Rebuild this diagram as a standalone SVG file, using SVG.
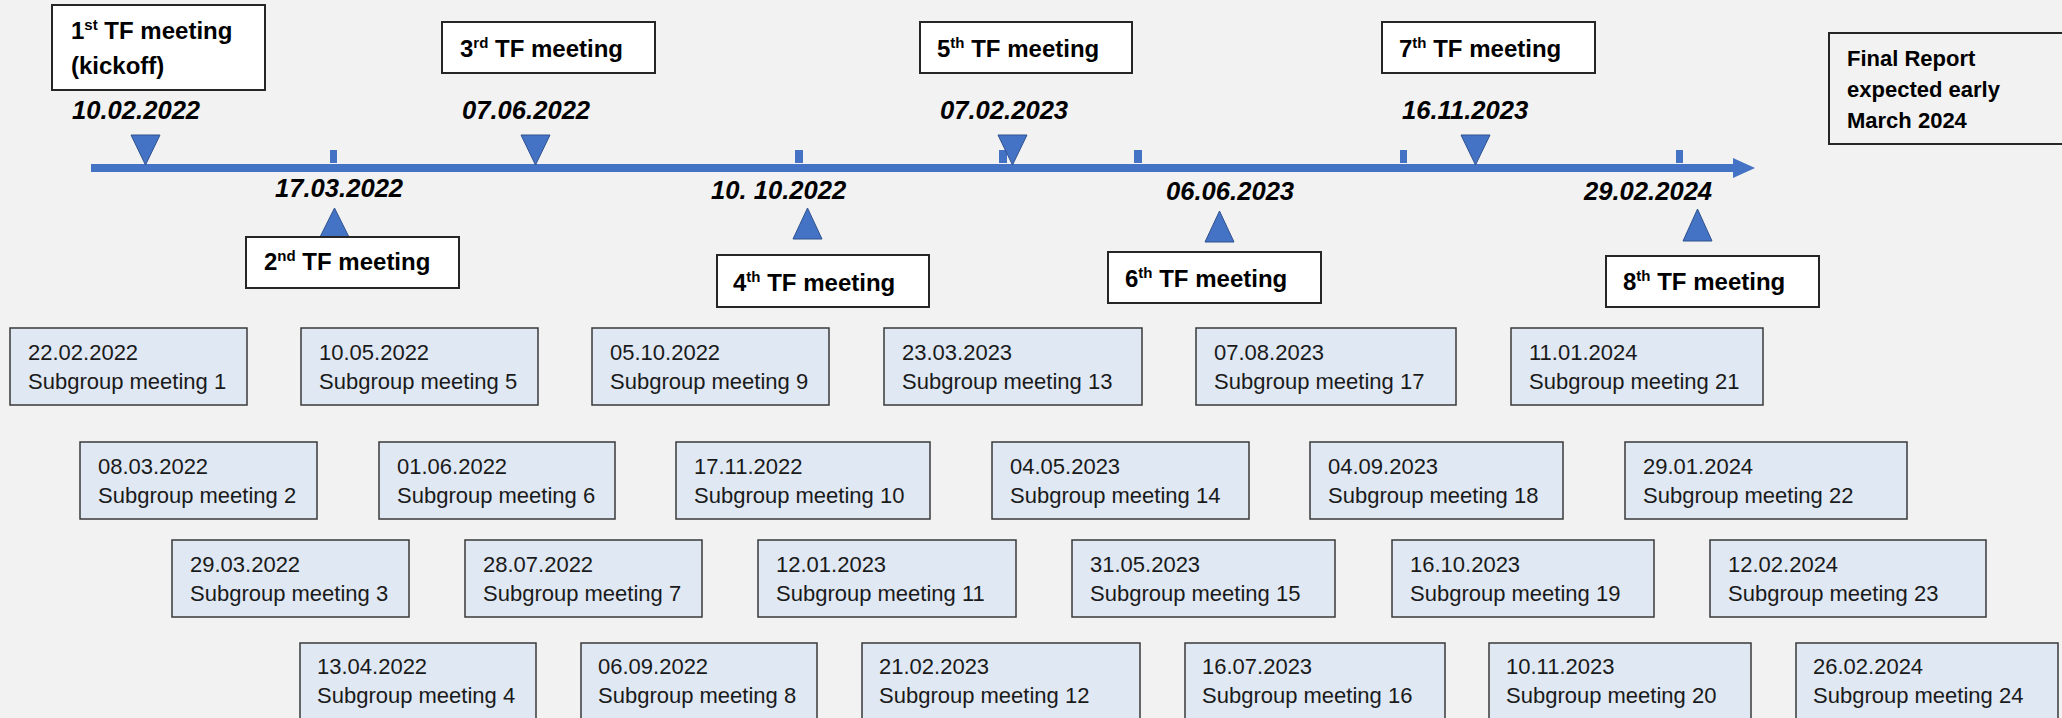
<svg xmlns="http://www.w3.org/2000/svg" width="2062" height="718" viewBox="0 0 2062 718">
<style>
  .bg { fill: #f2f2f2; }
  .tf rect { fill: #ffffff; stroke: #262626; stroke-width: 2; }
  .tf text { font-family: "Liberation Sans", Arial, sans-serif; font-weight: bold; font-size: 24px; fill: #000000; }
  .sup { font-size: 15px; }
  .sg rect { fill: #dfe8f3; stroke: #3a3a3a; stroke-width: 1.5; }
  .sg text { font-family: "Liberation Sans", Arial, sans-serif; font-size: 22px; fill: #1a1a1a; }
  .date { font-family: "Liberation Sans", Arial, sans-serif; font-weight: bold; font-style: italic; font-size: 25.6px; fill: #000000; }
  .final rect { fill: #f2f2f2; stroke: #262626; stroke-width: 2; }
  .final text { font-family: "Liberation Sans", Arial, sans-serif; font-weight: bold; font-size: 22px; fill: #000000; }
  .axis { stroke: #4472c4; stroke-width: 8; fill: none; }
  .tick { fill: #4472c4; }
  .tri { fill: #4472c4; stroke: #2f528f; stroke-width: 1; }
</style>
<defs>
  <marker id="arrow" markerUnits="userSpaceOnUse" markerWidth="24" markerHeight="22" refX="0" refY="11" orient="auto">
    <path d="M0,1 L22,11 L0,21 Z" fill="#4472c4"/>
  </marker>
</defs>
<rect class="bg" x="0" y="0" width="2062" height="718"/>

<g id="connectors">
  <line class="axis" x1="91" y1="168" x2="1733" y2="168" marker-end="url(#arrow)"/>
  <rect class="tick" x="330" y="150" width="7" height="13"/>
  <rect class="tick" x="795" y="150" width="8" height="13"/>
  <rect class="tick" x="999" y="150" width="8" height="13"/>
  <rect class="tick" x="1134" y="150" width="8" height="13"/>
  <rect class="tick" x="1400" y="150" width="7" height="13"/>
  <rect class="tick" x="1676" y="150" width="7" height="13"/>
  <polygon class="tri" points="131,135 160,135 145.5,165"/>
  <polygon class="tri" points="521,135 550,135 535.5,165"/>
  <polygon class="tri" points="998,135 1027,135 1012.5,165"/>
  <polygon class="tri" points="1461,135 1490,135 1475.5,165"/>
  <polygon class="tri" points="320,237 349,237 334.5,208"/>
  <polygon class="tri" points="793,239 822,239 807.5,208"/>
  <polygon class="tri" points="1205,242 1234,242 1219.5,211"/>
  <polygon class="tri" points="1683,241 1712,241 1697.5,209"/>
</g>

<g id="dates">
  <text class="date" x="72" y="119">10.02.2022</text>
  <text class="date" x="462" y="119">07.06.2022</text>
  <text class="date" x="940" y="119">07.02.2023</text>
  <text class="date" x="1402" y="119">16.11.2023</text>
  <text class="date" x="275" y="197">17.03.2022</text>
  <text class="date" x="711" y="199">10. 10.2022</text>
  <text class="date" x="1166" y="200">06.06.2023</text>
  <text class="date" x="1584" y="200">29.02.2024</text>
</g>

<g id="tf1" class="tf">
  <rect x="52" y="5" width="213" height="85"/>
  <text x="71" y="39">1<tspan class="sup" dy="-9">st</tspan><tspan dy="9"> TF meeting</tspan></text>
  <text x="71" y="74">(kickoff)</text>
</g>
<g id="tf2" class="tf">
  <rect x="246" y="237" width="213" height="51"/>
  <text x="264" y="270">2<tspan class="sup" dy="-9">nd</tspan><tspan dy="9"> TF meeting</tspan></text>
</g>
<g id="tf3" class="tf">
  <rect x="442" y="22" width="213" height="51"/>
  <text x="460" y="57">3<tspan class="sup" dy="-9">rd</tspan><tspan dy="9"> TF meeting</tspan></text>
</g>
<g id="tf4" class="tf">
  <rect x="717" y="255" width="212" height="52"/>
  <text x="733" y="291">4<tspan class="sup" dy="-9">th</tspan><tspan dy="9"> TF meeting</tspan></text>
</g>
<g id="tf5" class="tf">
  <rect x="920" y="22" width="212" height="51"/>
  <text x="937" y="57">5<tspan class="sup" dy="-9">th</tspan><tspan dy="9"> TF meeting</tspan></text>
</g>
<g id="tf6" class="tf">
  <rect x="1108" y="252" width="213" height="51"/>
  <text x="1125" y="287">6<tspan class="sup" dy="-9">th</tspan><tspan dy="9"> TF meeting</tspan></text>
</g>
<g id="tf7" class="tf">
  <rect x="1382" y="22" width="213" height="51"/>
  <text x="1399" y="57">7<tspan class="sup" dy="-9">th</tspan><tspan dy="9"> TF meeting</tspan></text>
</g>
<g id="tf8" class="tf">
  <rect x="1606" y="256" width="213" height="51"/>
  <text x="1623" y="290">8<tspan class="sup" dy="-9">th</tspan><tspan dy="9"> TF meeting</tspan></text>
</g>

<g id="final" class="final">
  <rect x="1829" y="33" width="250" height="111"/>
  <text x="1847" y="66">Final Report</text>
  <text x="1847" y="97">expected early</text>
  <text x="1847" y="128">March 2024</text>
</g>

<g id="sg1" class="sg"><rect x="10" y="328" width="237" height="77"/><text x="28" y="360">22.02.2022</text><text x="28" y="389">Subgroup meeting 1</text></g>
<g id="sg2" class="sg"><rect x="80" y="442" width="237" height="77"/><text x="98" y="474">08.03.2022</text><text x="98" y="503">Subgroup meeting 2</text></g>
<g id="sg3" class="sg"><rect x="172" y="540" width="237" height="77"/><text x="190" y="572">29.03.2022</text><text x="190" y="601">Subgroup meeting 3</text></g>
<g id="sg4" class="sg"><rect x="300" y="643" width="236" height="80"/><text x="317" y="674">13.04.2022</text><text x="317" y="703">Subgroup meeting 4</text></g>
<g id="sg5" class="sg"><rect x="301" y="328" width="237" height="77"/><text x="319" y="360">10.05.2022</text><text x="319" y="389">Subgroup meeting 5</text></g>
<g id="sg6" class="sg"><rect x="379" y="442" width="236" height="77"/><text x="397" y="474">01.06.2022</text><text x="397" y="503">Subgroup meeting 6</text></g>
<g id="sg7" class="sg"><rect x="465" y="540" width="237" height="77"/><text x="483" y="572">28.07.2022</text><text x="483" y="601">Subgroup meeting 7</text></g>
<g id="sg8" class="sg"><rect x="581" y="643" width="236" height="80"/><text x="598" y="674">06.09.2022</text><text x="598" y="703">Subgroup meeting 8</text></g>
<g id="sg9" class="sg"><rect x="592" y="328" width="237" height="77"/><text x="610" y="360">05.10.2022</text><text x="610" y="389">Subgroup meeting 9</text></g>
<g id="sg10" class="sg"><rect x="676" y="442" width="254" height="77"/><text x="694" y="474">17.11.2022</text><text x="694" y="503">Subgroup meeting 10</text></g>
<g id="sg11" class="sg"><rect x="758" y="540" width="258" height="77"/><text x="776" y="572">12.01.2023</text><text x="776" y="601">Subgroup meeting 11</text></g>
<g id="sg12" class="sg"><rect x="862" y="643" width="278" height="80"/><text x="879" y="674">21.02.2023</text><text x="879" y="703">Subgroup meeting 12</text></g>
<g id="sg13" class="sg"><rect x="884" y="328" width="258" height="77"/><text x="902" y="360">23.03.2023</text><text x="902" y="389">Subgroup meeting 13</text></g>
<g id="sg14" class="sg"><rect x="992" y="442" width="257" height="77"/><text x="1010" y="474">04.05.2023</text><text x="1010" y="503">Subgroup meeting 14</text></g>
<g id="sg15" class="sg"><rect x="1072" y="540" width="263" height="77"/><text x="1090" y="572">31.05.2023</text><text x="1090" y="601">Subgroup meeting 15</text></g>
<g id="sg16" class="sg"><rect x="1185" y="643" width="260" height="80"/><text x="1202" y="674">16.07.2023</text><text x="1202" y="703">Subgroup meeting 16</text></g>
<g id="sg17" class="sg"><rect x="1196" y="328" width="260" height="77"/><text x="1214" y="360">07.08.2023</text><text x="1214" y="389">Subgroup meeting 17</text></g>
<g id="sg18" class="sg"><rect x="1310" y="442" width="253" height="77"/><text x="1328" y="474">04.09.2023</text><text x="1328" y="503">Subgroup meeting 18</text></g>
<g id="sg19" class="sg"><rect x="1392" y="540" width="262" height="77"/><text x="1410" y="572">16.10.2023</text><text x="1410" y="601">Subgroup meeting 19</text></g>
<g id="sg20" class="sg"><rect x="1489" y="643" width="262" height="80"/><text x="1506" y="674">10.11.2023</text><text x="1506" y="703">Subgroup meeting 20</text></g>
<g id="sg21" class="sg"><rect x="1511" y="328" width="252" height="77"/><text x="1529" y="360">11.01.2024</text><text x="1529" y="389">Subgroup meeting 21</text></g>
<g id="sg22" class="sg"><rect x="1625" y="442" width="282" height="77"/><text x="1643" y="474">29.01.2024</text><text x="1643" y="503">Subgroup meeting 22</text></g>
<g id="sg23" class="sg"><rect x="1710" y="540" width="276" height="77"/><text x="1728" y="572">12.02.2024</text><text x="1728" y="601">Subgroup meeting 23</text></g>
<g id="sg24" class="sg"><rect x="1796" y="643" width="262" height="80"/><text x="1813" y="674">26.02.2024</text><text x="1813" y="703">Subgroup meeting 24</text></g>
</svg>
